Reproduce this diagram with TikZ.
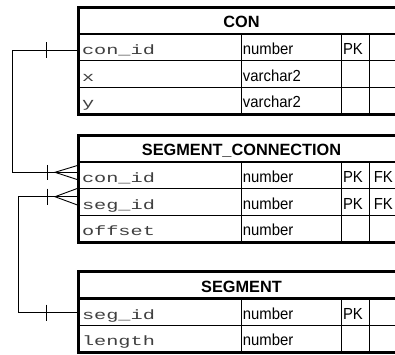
\documentclass[tikz,border=0pt]{standalone}
\usepackage{fontspec}
\setmainfont{Liberation Sans}
\newfontfamily\erdmono[FakeStretch=1.5]{Liberation Mono}
\newfontfamily\erdsans[FakeStretch=0.93]{Liberation Sans}
\usetikzlibrary{calc}
\tikzset{
  cell/.style={draw, line width=0.9pt, anchor=north west, outer sep=0pt,
    inner ysep=5.4pt, text height=15pt, text depth=1pt, align=left},
  sanstext/.style={font=\erdsans\fontsize{16}{16}\selectfont},
  namecell/.style={cell, inner xsep=4pt, text width=155.7pt,
    font=\erdmono\fontsize{13.5}{13.5}\selectfont, text=black!75},
  typecell/.style={cell, sanstext, inner xsep=1.2pt, text width=96.9pt},
  pkcell/.style={cell, sanstext, inner xsep=2pt, text width=24.3pt},
  fkcell/.style={cell, sanstext, inner xsep=4.5pt, text width=26.7pt},
  headcell/.style={draw, line width=0.9pt, anchor=north west, outer sep=0pt, inner xsep=0pt,
    minimum width=327pt, inner ysep=5.4pt, text height=15.5pt, text depth=0.5pt,
    font=\bfseries\fontsize{16.3}{16.3}\selectfont},
  border/.style={line width=3pt},
  headline/.style={line width=2.5pt},
  conn/.style={line width=0.9pt, black},
}
\newcommand\tblrow[6]{%
  \node[namecell] (#1) at (78,#2) {#3};
  \node[typecell] (#1-t) at (#1.north east) {#4};
  \node[pkcell] (#1-p) at (#1-t.north east) {#5};
  \node[fkcell] (#1-f) at (#1-p.north east) {#6};
}
\begin{document}
\begin{tikzpicture}[x=1pt,y=-1pt]
\path[use as bounding box] (0,0) rectangle (395,354);
\clip (0,0) rectangle (395,354);
\fill[white] (0,0) rectangle (395,354);

% CON
\node[headcell] (con) at (78,7) {CON};
\tblrow{con-id}{33.8}{con\_id}{number}{PK}{}
\tblrow{con-x}{60.6}{x}{varchar2}{}{}
\tblrow{con-y}{87.4}{y}{varchar2}{}{}
\draw[headline] (con.south west) -- (con.south east);
\draw[border] (con.north west) rectangle (con-y-f.south east);

% SEGMENT_CONNECTION
\node[headcell] (sc) at (78,135) {SEGMENT\_CONNECTION};
\tblrow{sc-con}{161.8}{con\_id}{number}{PK}{FK}
\tblrow{sc-seg}{188.6}{seg\_id}{number}{PK}{FK}
\tblrow{sc-off}{215.4}{offset}{number}{}{}
\draw[headline] (sc.south west) -- (sc.south east);
\draw[border] (sc.north west) rectangle (sc-off-f.south east);

% SEGMENT
\node[headcell] (seg) at (78,271.8) {SEGMENT};
\tblrow{seg-id}{298.6}{seg\_id}{number}{PK}{}
\tblrow{seg-len}{325.4}{length}{number}{}{}
\draw[headline] (seg.south west) -- (seg.south east);
\draw[border] (seg.north west) rectangle (seg-len-f.south east);

% connector CON.con_id -> SEGMENT_CONNECTION.con_id
\coordinate (a1) at ($(con-id.west)+(0,2.8)$);
\coordinate (a2) at ($(sc-con.west)+(0,-2.9)$);
\draw[conn] (a1) -- ++(-66,0) |- (a2);
\draw[conn] ($(a1)+(-31.5,-8)$) -- ++(0,16);
\draw[conn] ($(a2)+(-31,-7.5)$) -- ++(0,15);
\draw[conn] ($(a2)+(0,-7)$) -- ($(a2)+(-23,0)$) -- ($(a2)+(0,7.5)$);

% connector SEGMENT.seg_id -> SEGMENT_CONNECTION.seg_id
\coordinate (b1) at ($(seg-id.west)+(0,0.5)$);
\coordinate (b2) at ($(sc-seg.west)+(0,-5.3)$);
\draw[conn] (b1) -- ++(-60,0) |- (b2);
\draw[conn] ($(b1)+(-31.5,-8)$) -- ++(0,16);
\draw[conn] ($(b2)+(-31,-8)$) -- ++(0,16);
\draw[conn] ($(b2)+(0,-8.5)$) -- ($(b2)+(-23,0)$) -- ($(b2)+(0,8.5)$);
\end{tikzpicture}
\end{document}
